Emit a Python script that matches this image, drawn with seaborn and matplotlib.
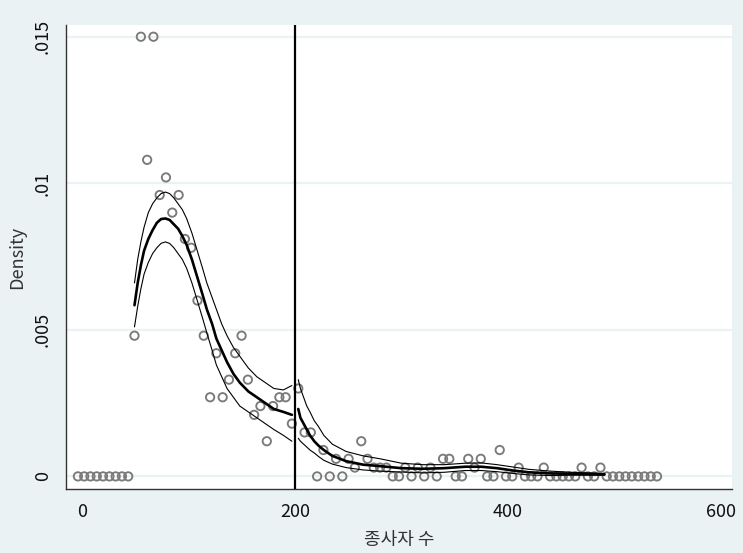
import matplotlib
matplotlib.use("Agg")
import matplotlib.pyplot as plt
import seaborn as sns
import pandas as pd

# ---- data: binned densities (points) ----
bin_x = [-4.2, 1.7, 7.6, 13.5, 19.4, 25.4, 31.3, 37.2, 43.1,
         49.0, 55.0, 60.9, 66.8, 72.7, 78.6, 84.5, 90.5, 96.4, 102.3,
         108.2, 114.1, 120.1, 126.0, 131.9, 137.8, 143.7, 149.7, 155.6,
         161.5, 167.4, 173.4, 179.3, 185.2, 191.1, 197.0,
         203.0, 208.9, 214.8, 220.7, 226.6, 232.6, 238.5, 244.4, 250.3,
         256.2, 262.2, 268.1, 274.0, 279.9, 285.8, 291.8, 297.7, 303.6,
         309.5, 315.4, 321.4, 327.3, 333.2, 339.1, 345.0, 351.0, 356.9,
         362.8, 368.7, 374.6, 380.6, 386.5, 392.4, 398.3, 404.2, 410.2,
         416.1, 422.0, 427.9, 433.8, 439.8, 445.7, 451.6, 457.5, 463.4,
         469.4, 475.3, 481.2, 487.1, 493.0, 498.9, 504.8, 510.7, 516.6,
         522.6, 528.5, 534.4, 540.3]
bin_density = [0, 0, 0, 0, 0, 0, 0, 0, 0,
               0.0048, 0.0150, 0.0108, 0.0150, 0.0096, 0.0102, 0.0090, 0.0096, 0.0081, 0.0078,
               0.0060, 0.0048, 0.0027, 0.0042, 0.0027, 0.0033, 0.0042, 0.0048, 0.0033,
               0.0021, 0.0024, 0.0012, 0.0024, 0.0027, 0.0027, 0.0018,
               0.0030, 0.0015, 0.0015, 0, 0.0009, 0, 0.0006, 0, 0.0006,
               0.0003, 0.0012, 0.0006, 0.0003, 0.0003, 0.0003, 0, 0, 0.0003,
               0, 0.0003, 0, 0.0003, 0, 0.0006, 0.0006, 0, 0,
               0.0006, 0.0003, 0.0006, 0, 0, 0.0009, 0, 0, 0.0003,
               0, 0, 0, 0.0003, 0, 0, 0, 0, 0,
               0.0003, 0, 0, 0.0003, 0, 0, 0, 0, 0,
               0, 0, 0, 0]

# ---- data: fitted density, left of cutoff ----
left_x = [49, 52, 55, 58, 62, 66, 70, 74, 78, 82, 86, 90, 94, 98, 103, 108, 113, 117,
          122, 126, 131, 136, 142, 148, 156, 164, 172, 180, 189, 197]
left_fit = [0.00584, 0.0066, 0.0072, 0.0077, 0.0081, 0.0084, 0.00865, 0.00878, 0.0088,
            0.00875, 0.0086, 0.00845, 0.0082, 0.0079, 0.0074, 0.0068, 0.0062, 0.0057,
            0.0052, 0.0047, 0.0043, 0.0039, 0.0035, 0.0032, 0.0029, 0.0027, 0.0025,
            0.0023, 0.0022, 0.0021]
left_hi = [0.0066, 0.0074, 0.0080, 0.0085, 0.0090, 0.0093, 0.0095, 0.00965, 0.0097,
           0.00965, 0.0095, 0.0093, 0.0091, 0.0088, 0.0083, 0.0077, 0.0071, 0.0066,
           0.0061, 0.0057, 0.0052, 0.0048, 0.0044, 0.0041, 0.0037, 0.0034, 0.0032,
           0.0030, 0.00295, 0.0031]
left_lo = [0.0051, 0.0058, 0.0064, 0.0069, 0.0073, 0.0076, 0.0078, 0.00795, 0.0080,
           0.00795, 0.0078, 0.0076, 0.0074, 0.0071, 0.0066, 0.0060, 0.0054, 0.0049,
           0.0043, 0.0038, 0.0034, 0.0030, 0.0027, 0.0024, 0.0022, 0.0020, 0.0018,
           0.0016, 0.0014, 0.0012]

# ---- data: fitted density, right of cutoff ----
right_x = [203, 205, 208, 211, 214, 218, 222, 227, 235, 248, 264, 280, 300, 320, 340,
           360, 375, 390, 405, 420, 440, 460, 491]
right_fit = [0.0023, 0.0020, 0.0018, 0.0016, 0.0014, 0.0012, 0.00105, 0.0009, 0.0007,
             0.00052, 0.0004, 0.00035, 0.00028, 0.00026, 0.00028, 0.00033, 0.00033,
             0.00028, 0.0002, 0.00014, 0.0001, 0.00009, 0.00007]
right_hi = [0.0033, 0.0030, 0.0027, 0.0024, 0.0022, 0.0019, 0.0017, 0.0014, 0.0011,
            0.00085, 0.0007, 0.0006, 0.00045, 0.0004, 0.0004, 0.00045, 0.00046,
            0.0004, 0.00032, 0.00024, 0.00018, 0.00014, 0.0001]
right_lo = [0.0013, 0.0012, 0.0011, 0.0010, 0.0009, 0.0008, 0.00068, 0.00055, 0.00042,
            0.0003, 0.00022, 0.00018, 0.00015, 0.00012, 0.00014, 0.0002, 0.0002,
            0.00016, 0.0001, 0.00005, 0.00003, 0.00004, 0.00004]

cutoff = 200
x_ticks = [0, 200, 400, 600]
y_ticks = [0, 0.005, 0.01, 0.015]
y_tick_labels = ["0", ".005", ".01", ".015"]
x_label = "종사자 수"
y_label = "Density"

# ---- style ----
sns.set_style("white")
plt.rcParams['font.family'] = ['Noto Sans CJK KR', 'DejaVu Sans']
BG = "#EAF2F3"

fig = plt.figure(figsize=(7.43, 5.53), dpi=100, facecolor=BG)
ax = fig.add_axes([66 / 743, 1 - 489 / 553, (732 - 66) / 743, (489 - 25) / 553])
ax.set_facecolor("white")

for yt in y_ticks:
    ax.axhline(yt, color=BG, lw=1.6, zorder=0)

pts = pd.DataFrame({"x": bin_x, "y": bin_density})
sns.scatterplot(data=pts, x="x", y="y", ax=ax, marker="o", s=36,
                facecolor="none", edgecolor="#7a7a7a", linewidth=1.35, zorder=3)

for xs, fit, hi, lo in [(left_x, left_fit, left_hi, left_lo),
                        (right_x, right_fit, right_hi, right_lo)]:
    sns.lineplot(x=xs, y=hi, ax=ax, color="black", lw=0.8, estimator=None, zorder=4)
    sns.lineplot(x=xs, y=lo, ax=ax, color="black", lw=0.8, estimator=None, zorder=4)
    sns.lineplot(x=xs, y=fit, ax=ax, color="black", lw=1.9, estimator=None, zorder=5)

ax.axvline(cutoff, color="black", lw=1.6, zorder=6)

ax.set_xlim(-15.4, 610.8)
ax.set_ylim(-0.00043, 0.0154)
ax.set_xticks(x_ticks)
ax.set_xticklabels([str(v) for v in x_ticks])
ax.set_yticks(y_ticks)
ax.set_yticklabels(y_tick_labels, rotation=90, va="center")

for s in ["top", "right"]:
    ax.spines[s].set_visible(False)
for s in ["left", "bottom"]:
    ax.spines[s].set_color("#333333")
    ax.spines[s].set_linewidth(1.0)

ax.tick_params(axis="both", direction="out", length=6, width=1.0, color="#333333",
               labelsize=13, labelcolor="#111111", pad=4)
ax.set_xlabel(x_label, fontsize=13, color="#333333", labelpad=7)
ax.set_ylabel(y_label, fontsize=13, color="#333333", labelpad=6)

fig.savefig("out.png", dpi=100, facecolor=BG)
